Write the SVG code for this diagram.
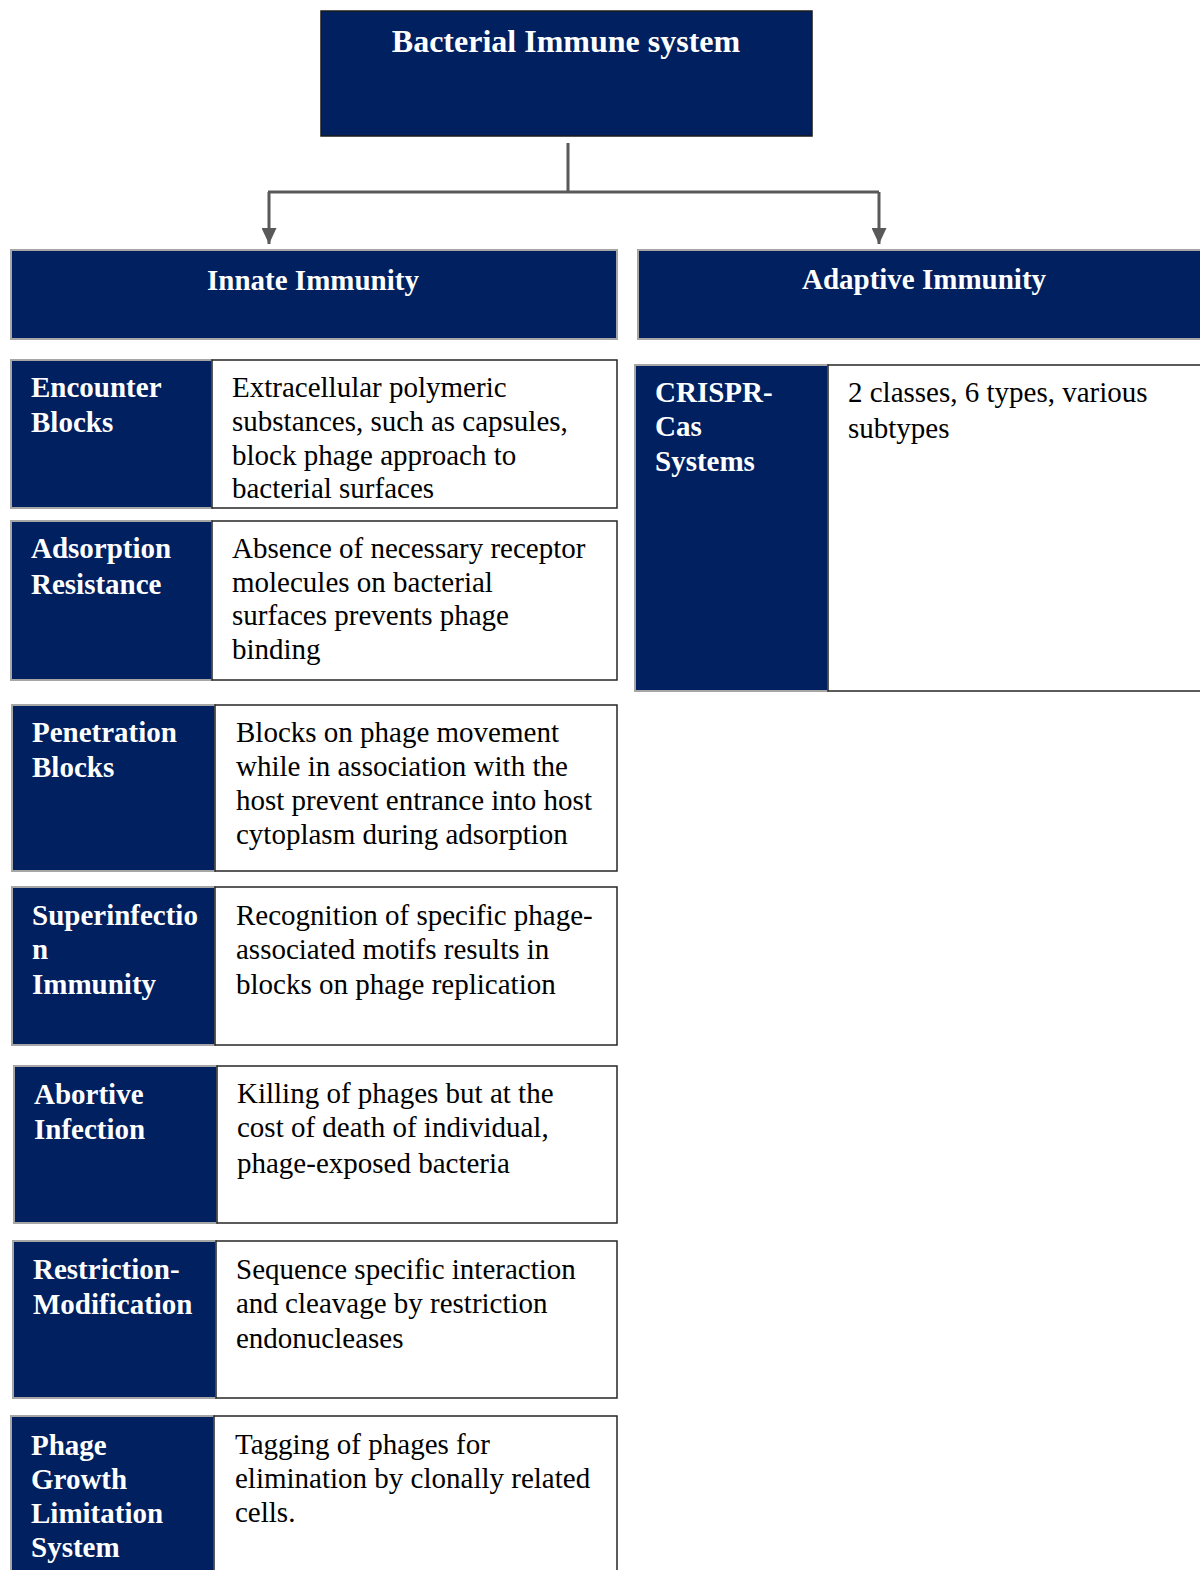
<svg xmlns="http://www.w3.org/2000/svg" width="1200" height="1570" viewBox="0 0 1200 1570">
<defs>
<style>
.dark{fill:#002060;stroke:#a6a6a6;stroke-width:2}
.top{fill:#002060;stroke:#1a1a1a;stroke-width:1.5}
.white{fill:#fff;stroke:#262626;stroke-width:1.5}
.lbl{font-family:"Liberation Serif","Times New Roman",serif;font-weight:bold;font-size:29px;fill:#fff}
.ttl{font-family:"Liberation Serif","Times New Roman",serif;font-weight:bold;font-size:32px;fill:#fff}
.desc{font-family:"Liberation Serif","Times New Roman",serif;font-size:29px;fill:#000}
.conn{fill:none;stroke:#595959;stroke-width:3}
</style>
<marker id="arr" markerWidth="16" markerHeight="15" refX="16" refY="7.5" orient="auto" markerUnits="userSpaceOnUse" viewBox="0 0 16 15">
<path d="M0,0 L16,7.5 L0,15 Z" fill="#595959"/>
</marker>
</defs>

<g id="title">
<rect class="top" x="321" y="11" width="491" height="125"/>
<text class="ttl" x="566" y="52" text-anchor="middle">Bacterial Immune system</text>
</g>

<g id="connectors">
<path class="conn" d="M568,143 V192"/>
<path class="conn" d="M268,192 H879"/>
<path class="conn" d="M269,192 V244" marker-end="url(#arr)"/>
<path class="conn" d="M879,192 V244" marker-end="url(#arr)"/>
</g>

<g id="innate">
<rect class="dark" x="11" y="250" width="606" height="89"/>
<text class="lbl" x="313" y="290" text-anchor="middle">Innate Immunity</text>
</g>

<g id="adaptive">
<rect class="dark" x="638" y="250" width="570" height="89"/>
<text class="lbl" x="924" y="289" text-anchor="middle">Adaptive Immunity</text>
</g>

<g id="encounter-blocks">
<rect class="dark" x="11" y="360" width="201" height="148"/>
<rect class="white" x="212" y="360" width="405" height="148"/>
<text class="lbl" x="31" y="397">Encounter</text>
<text class="lbl" x="31" y="432">Blocks</text>
<text class="desc" x="232" y="397">Extracellular polymeric</text>
<text class="desc" x="232" y="431">substances, such as capsules,</text>
<text class="desc" x="232" y="465">block phage approach to</text>
<text class="desc" x="232" y="498">bacterial surfaces</text>
</g>

<g id="adsorption-resistance">
<rect class="dark" x="11" y="521" width="201" height="159"/>
<rect class="white" x="212" y="521" width="405" height="159"/>
<text class="lbl" x="31" y="558">Adsorption</text>
<text class="lbl" x="31" y="594">Resistance</text>
<text class="desc" x="232" y="558">Absence of necessary receptor</text>
<text class="desc" x="232" y="592">molecules on bacterial</text>
<text class="desc" x="232" y="625">surfaces prevents phage</text>
<text class="desc" x="232" y="659">binding</text>
</g>

<g id="penetration-blocks">
<rect class="dark" x="12" y="705" width="203" height="166"/>
<rect class="white" x="215" y="705" width="402" height="166"/>
<text class="lbl" x="32" y="742">Penetration</text>
<text class="lbl" x="32" y="777">Blocks</text>
<text class="desc" x="236" y="742">Blocks on phage movement</text>
<text class="desc" x="236" y="776">while in association with the</text>
<text class="desc" x="236" y="810">host prevent entrance into host</text>
<text class="desc" x="236" y="844">cytoplasm during adsorption</text>
</g>

<g id="superinfection-immunity">
<rect class="dark" x="12" y="887" width="203" height="158"/>
<rect class="white" x="215" y="887" width="402" height="158"/>
<text class="lbl" x="32" y="925">Superinfectio</text>
<text class="lbl" x="32" y="959">n</text>
<text class="lbl" x="32" y="994">Immunity</text>
<text class="desc" x="236" y="925">Recognition of specific phage-</text>
<text class="desc" x="236" y="959">associated motifs results in</text>
<text class="desc" x="236" y="994">blocks on phage replication</text>
</g>

<g id="abortive-infection">
<rect class="dark" x="14" y="1066" width="203" height="157"/>
<rect class="white" x="217" y="1066" width="400" height="157"/>
<text class="lbl" x="34" y="1104">Abortive</text>
<text class="lbl" x="34" y="1139">Infection</text>
<text class="desc" x="237" y="1103">Killing of phages but at the</text>
<text class="desc" x="237" y="1137">cost of death of individual,</text>
<text class="desc" x="237" y="1173">phage-exposed bacteria</text>
</g>

<g id="restriction-modification">
<rect class="dark" x="13" y="1241" width="203" height="157"/>
<rect class="white" x="216" y="1241" width="401" height="157"/>
<text class="lbl" x="33" y="1279">Restriction-</text>
<text class="lbl" x="33" y="1314">Modification</text>
<text class="desc" x="236" y="1279">Sequence specific interaction</text>
<text class="desc" x="236" y="1313">and cleavage by restriction</text>
<text class="desc" x="236" y="1348">endonucleases</text>
</g>

<g id="phage-growth-limitation">
<rect class="dark" x="11" y="1416" width="203" height="164"/>
<rect class="white" x="214" y="1416" width="403" height="164"/>
<text class="lbl" x="31" y="1455">Phage</text>
<text class="lbl" x="31" y="1489">Growth</text>
<text class="lbl" x="31" y="1523">Limitation</text>
<text class="lbl" x="31" y="1557">System</text>
<text class="desc" x="235" y="1454">Tagging of phages for</text>
<text class="desc" x="235" y="1488">elimination by clonally related</text>
<text class="desc" x="235" y="1522">cells.</text>
</g>

<g id="crispr-cas">
<rect class="dark" x="635" y="365" width="193" height="326"/>
<rect class="white" x="828" y="365" width="380" height="326"/>
<text class="lbl" x="655" y="402">CRISPR-</text>
<text class="lbl" x="655" y="436">Cas</text>
<text class="lbl" x="655" y="471">Systems</text>
<text class="desc" x="848" y="402">2 classes, 6 types, various</text>
<text class="desc" x="848" y="438">subtypes</text>
</g>
</svg>
